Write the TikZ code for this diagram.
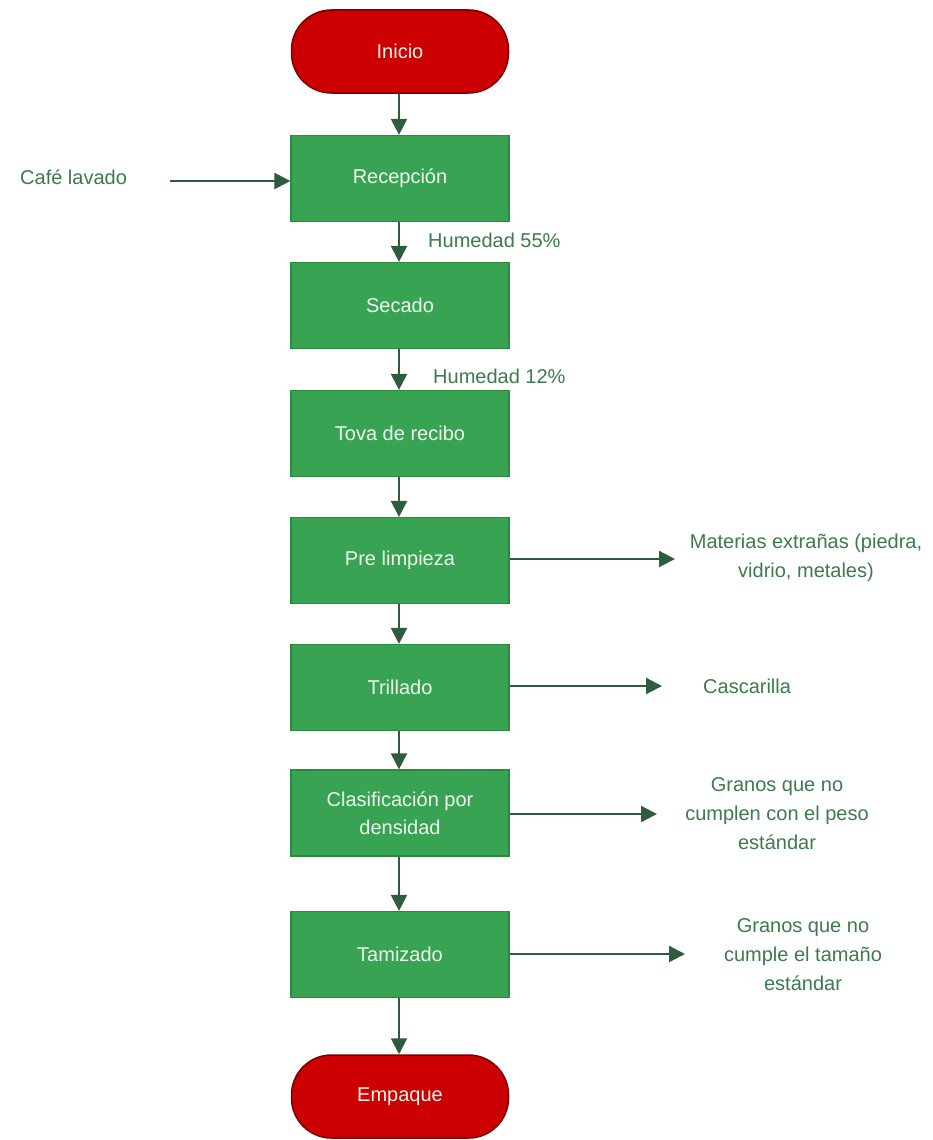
\documentclass[tikz,border=0pt]{standalone}
\usepackage{fontspec}
\setmainfont{Liberation Sans}
\usetikzlibrary{arrows.meta}
\definecolor{boxfill}{HTML}{38A352}
\definecolor{boxdraw}{HTML}{2B8A42}
\definecolor{termfill}{HTML}{CC0000}
\definecolor{termdraw}{HTML}{7A0000}
\definecolor{sidetext}{HTML}{3D7A4D}
\definecolor{arrowc}{HTML}{2F5B3F}
\definecolor{boxtext}{HTML}{EEF7EE}
\tikzset{
  procbox/.style={draw=boxdraw, line width=1.2pt, fill=boxfill, minimum width=218pt, minimum height=86pt,
    text=boxtext, font=\fontsize{20}{28}\selectfont, align=center, inner sep=0pt},
  termbox/.style={draw=termdraw, line width=1.5pt, fill=termfill, minimum width=217pt, minimum height=83pt,
    rounded corners=40pt, text=boxtext, font=\fontsize{20}{28}\selectfont, align=center, inner sep=0pt},
  sidelabel/.style={text=sidetext, font=\fontsize{20}{29}\selectfont, align=center, inner sep=0pt},
  flow/.style={draw=arrowc, line width=2.2pt, -{Triangle[length=16pt,width=16pt]}}
}
\begin{document}
\begin{tikzpicture}[x=1pt,y=-1pt]
\useasboundingbox (0,0) rectangle (932,1140);
\fill[white] (0,0) rectangle (932,1140);
% main column
\node[termbox] (ini) at (400,51.5) {Inicio};
\node[procbox] (rec) at (400,178.5) {Recepción};
\node[procbox] (sec) at (400,305.5) {Secado};
\node[procbox] (tov) at (400,433.5) {Tova de recibo};
\node[procbox] (pre) at (400,560.5) {Pre limpieza};
\node[procbox] (tri) at (400,687.5) {Trillado};
\node[procbox] (cla) at (400,813) {Clasificación por\\densidad};
\node[procbox] (tam) at (400,954.5) {Tamizado};
\node[termbox] (emp) at (400,1096.5) {Empaque};
% side labels
\node[sidelabel, anchor=west] (caf) at (20,177) {Café lavado};
\coordinate (cafs) at (170,181);
\node[sidelabel, anchor=west] (h55) at (428,240) {Humedad 55\%};
\node[sidelabel, anchor=west] (h12) at (433,376) {Humedad 12\%};
\node[sidelabel] (mat) at (806,558) {Materias extrañas (piedra,\\vidrio, metales)};
\node[sidelabel, anchor=west] (cas) at (703,686) {Cascarilla};
\node[sidelabel] (gpe) at (777,814) {Granos que no\\cumplen con el peso\\estándar};
\node[sidelabel] (gta) at (803,955) {Granos que no\\cumple el tamaño\\estándar};
% side arrow end points
\coordinate (matp) at (675,559);
\coordinate (casp) at (662,686);
\coordinate (gpep) at (657,814);
\coordinate (gtap) at (685,954);
% vertical flow
\draw[flow] ([xshift=-1pt]ini.south) -- ([xshift=-1pt]rec.north);
\draw[flow] ([xshift=-1pt]rec.south) -- ([xshift=-1pt]sec.north);
\draw[flow] ([xshift=-1pt]sec.south) -- ([xshift=-1pt]tov.north);
\draw[flow] ([xshift=-1pt]tov.south) -- ([xshift=-1pt]pre.north);
\draw[flow] ([xshift=-1pt]pre.south) -- ([xshift=-1pt]tri.north);
\draw[flow] ([xshift=-1pt]tri.south) -- ([xshift=-1pt]cla.north);
\draw[flow] ([xshift=-1pt]cla.south) -- ([xshift=-1pt]tam.north);
\draw[flow] ([xshift=-1pt]tam.south) -- ([xshift=-1pt]emp.north);
% side flows
\draw[flow] (cafs) -- (cafs -| rec.west);
\draw[flow] (matp -| pre.east) -- (matp);
\draw[flow] (casp -| tri.east) -- (casp);
\draw[flow] (gpep -| cla.east) -- (gpep);
\draw[flow] (gtap -| tam.east) -- (gtap);
\end{tikzpicture}
\end{document}
